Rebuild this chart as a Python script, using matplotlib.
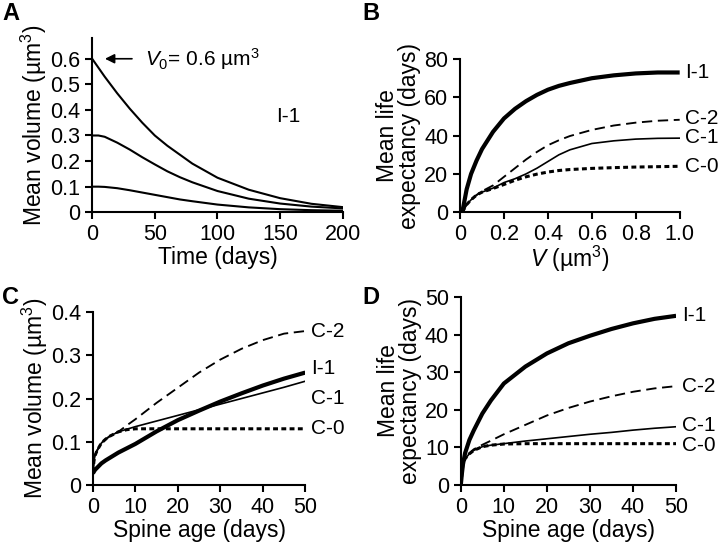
import matplotlib
matplotlib.use("Agg")
import matplotlib.pyplot as plt

plt.rcParams["font.family"] = ["Liberation Sans", "DejaVu Sans"]
plt.rcParams["mathtext.fontset"] = "custom"
plt.rcParams["mathtext.rm"] = "Liberation Sans"
plt.rcParams["mathtext.it"] = "Liberation Sans:italic"
plt.rcParams["font.size"] = 16.5


# Panel A: mean volume vs time, three starting volumes
time_a = [0, 5, 10, 20, 30, 40, 50, 60, 70, 80, 100, 125, 150, 175, 200]
vol_06 = [0.60, 0.565, 0.53, 0.465, 0.405, 0.35, 0.30, 0.26, 0.225, 0.19, 0.135, 0.088, 0.055, 0.033, 0.02]
vol_03 = [0.30, 0.30, 0.295, 0.272, 0.245, 0.215, 0.187, 0.16, 0.137, 0.117, 0.083, 0.053, 0.034, 0.022, 0.015]
vol_01 = [0.10, 0.10, 0.099, 0.094, 0.086, 0.077, 0.068, 0.059, 0.05, 0.043, 0.03, 0.019, 0.012, 0.008, 0.006]

# Panel B: mean life expectancy vs volume
vol_b = [0.01, 0.03, 0.05, 0.075, 0.1, 0.15, 0.2, 0.25, 0.3, 0.35, 0.4, 0.45, 0.5, 0.6, 0.7, 0.8, 0.9, 1.0]
life_b_i1 = [0, 12, 20, 27, 33, 42, 49, 54, 58, 61.3, 64, 66, 67.5, 70, 71.5, 72.5, 73, 73]
life_b_c2 = [0, 4, 6.5, 9, 11, 14, 18.5, 23, 27.5, 31.5, 35, 37.6, 39.8, 43, 45.3, 46.8, 47.8, 48.3]
life_b_c1 = [0, 4, 6.5, 9, 10.5, 12.6, 15.5, 17.5, 20, 23, 26.5, 30, 32.6, 35.9, 37.3, 38.2, 38.6, 38.7]
life_b_c0 = [0, 4, 6.5, 9, 10.5, 12.4, 14.5, 16.7, 18.5, 19.9, 21, 21.8, 22.3, 22.9, 23.3, 23.6, 23.8, 24]

# Panel C: mean volume vs spine age
age_c = [0, 0.25, 0.5, 1, 2, 3, 4, 6, 8, 10, 15, 20, 25, 30, 35, 40, 45, 50]
vol_c_i1 = [0.027, 0.031, 0.035, 0.04, 0.05, 0.057, 0.063, 0.075, 0.085, 0.095, 0.124, 0.15, 0.172, 0.193, 0.212, 0.23, 0.246, 0.26]
vol_c_c2 = [0.03, 0.055, 0.068, 0.08, 0.097, 0.106, 0.113, 0.123, 0.138, 0.152, 0.19, 0.225, 0.26, 0.29, 0.315, 0.335, 0.35, 0.356]
vol_c_c1 = [0.03, 0.055, 0.068, 0.08, 0.097, 0.106, 0.113, 0.123, 0.129, 0.135, 0.148, 0.161, 0.174, 0.187, 0.2, 0.213, 0.226, 0.24]
vol_c_c0 = [0.03, 0.055, 0.068, 0.08, 0.097, 0.106, 0.113, 0.123, 0.128, 0.13, 0.13, 0.13, 0.13, 0.13, 0.13, 0.13, 0.13, 0.13]

# Panel D: mean life expectancy vs spine age
age_d = [0, 0.25, 0.5, 1, 2, 3, 5, 7, 10, 15, 20, 25, 30, 35, 40, 45, 50]
life_d_i1 = [0, 3, 5.5, 8.5, 12, 14.5, 19, 22.5, 27, 31.5, 35, 37.7, 39.7, 41.5, 43, 44.2, 45]
life_d_c2 = [0, 3, 5.5, 7, 8.5, 9.5, 10.7, 11.8, 13.5, 16, 18.5, 20.5, 22.2, 23.6, 24.8, 25.7, 26.3]
life_d_c1 = [0, 3, 5.5, 7, 8.3, 9.2, 10.2, 10.6, 11.0, 11.7, 12.3, 12.9, 13.5, 14.0, 14.6, 15.1, 15.5]
life_d_c0 = [0, 3, 5.5, 7, 8.3, 9.2, 10.2, 10.6, 10.9, 11, 11, 11, 11, 11, 11, 11, 11]

# where the curve names sit at the right of panels B, C, D
label_y_b = {"I-1": 73, "C-2": 49, "C-1": 39, "C-0": 24}
label_y_c = {"C-2": 0.356, "I-1": 0.27, "C-1": 0.2, "C-0": 0.131}
label_y_d = {"I-1": 45, "C-2": 26.3, "C-1": 15.7, "C-0": 10.6}

styles = {
    "I-1": dict(color="black", lw=3.0, solid_capstyle="butt"),
    "C-2": dict(color="black", lw=1.35, dashes=(5.5, 3)),
    "C-1": dict(color="black", lw=1.2),
    "C-0": dict(color="black", lw=2.2, dashes=(1.6, 1.1)),
}
TICK_FS = 15.5
TAG_FS = 15


def style_axes(ax):
    for side in ["top", "right"]:
        ax.spines[side].set_visible(False)
    for side in ["left", "bottom"]:
        ax.spines[side].set_linewidth(1.5)
    ax.tick_params(direction="out", length=5, width=1.5, pad=3.5, labelsize=TICK_FS)


fig = plt.figure(figsize=(7.2, 5.47), dpi=100)

# A
ax_a = fig.add_axes([0.128, 0.612, 0.348, 0.318])
for v in [vol_06, vol_03, vol_01]:
    ax_a.plot(time_a, v, color="black", lw=1.5)
ax_a.set_xlim(0, 200)
ax_a.set_ylim(0, 0.68)
ax_a.set_xticks([0, 50, 100, 150, 200])
ax_a.set_yticks([0, 0.1, 0.2, 0.3, 0.4, 0.5, 0.6])
ax_a.set_yticklabels(["0", "0.1", "0.2", "0.3", "0.4", "0.5", "0.6"])
ax_a.set_xlabel("Time (days)", labelpad=1)
ax_a.set_ylabel("Mean volume (µm$^3$)", labelpad=1)
ax_a.annotate("", xy=(8, 0.6), xytext=(34, 0.6),
              arrowprops=dict(arrowstyle="-|>", color="black", lw=1.2, mutation_scale=14))
ax_a.text(42, 0.6, r"$\mathit{V}_0$= 0.6 µm$^3$", va="center", ha="left", fontsize=TAG_FS)
ax_a.text(147, 0.375, "I-1", va="center", ha="left", fontsize=TAG_FS)
style_axes(ax_a)

# B
ax_b = fig.add_axes([0.639, 0.612, 0.305, 0.280])
for name, y in [("I-1", life_b_i1), ("C-2", life_b_c2), ("C-1", life_b_c1), ("C-0", life_b_c0)]:
    ax_b.plot(vol_b, y, **styles[name])
    ax_b.text(1.025, label_y_b[name], name, va="center", ha="left", fontsize=TAG_FS, clip_on=False)
ax_b.set_xlim(0, 1.0)
ax_b.set_ylim(0, 80)
ax_b.set_xticks([0, 0.2, 0.4, 0.6, 0.8, 1.0])
ax_b.set_xticklabels(["0", "0.2", "0.4", "0.6", "0.8", "1.0"])
ax_b.set_yticks([0, 20, 40, 60, 80])
ax_b.set_xlabel(r"$\mathit{V}$ (µm$^3$)", labelpad=-1)
ax_b.set_ylabel("Mean life\nexpectancy (days)", labelpad=2, linespacing=0.95)
style_axes(ax_b)

# C
ax_c = fig.add_axes([0.129, 0.1133, 0.295, 0.3163])
for name, y in [("I-1", vol_c_i1), ("C-2", vol_c_c2), ("C-1", vol_c_c1), ("C-0", vol_c_c0)]:
    ax_c.plot(age_c, y, **styles[name])
    ax_c.text(51.3, label_y_c[name], name, va="center", ha="left", fontsize=TAG_FS, clip_on=False)
ax_c.set_xlim(0, 50)
ax_c.set_ylim(0, 0.4)
ax_c.set_xticks([0, 10, 20, 30, 40, 50])
ax_c.set_yticks([0, 0.1, 0.2, 0.3, 0.4])
ax_c.set_yticklabels(["0", "0.1", "0.2", "0.3", "0.4"])
ax_c.set_xlabel("Spine age (days)", labelpad=1)
ax_c.set_ylabel("Mean volume (µm$^3$)", labelpad=1)
style_axes(ax_c)

# D
ax_d = fig.add_axes([0.640, 0.1133, 0.299, 0.3437])
for name, y in [("I-1", life_d_i1), ("C-2", life_d_c2), ("C-1", life_d_c1), ("C-0", life_d_c0)]:
    ax_d.plot(age_d, y, **styles[name])
    ax_d.text(51.3, label_y_d[name], name, va="center", ha="left", fontsize=TAG_FS, clip_on=False)
ax_d.set_xlim(0, 50)
ax_d.set_ylim(0, 50)
ax_d.set_xticks([0, 10, 20, 30, 40, 50])
ax_d.set_yticks([0, 10, 20, 30, 40, 50])
ax_d.set_xlabel("Spine age (days)", labelpad=1)
ax_d.set_ylabel("Mean life\nexpectancy (days)", labelpad=2, linespacing=0.95)
style_axes(ax_d)

for letter, x, y in [("A", 0.003, 0.997), ("B", 0.503, 0.997), ("C", 0.003, 0.478), ("D", 0.503, 0.478)]:
    fig.text(x, y, letter, fontsize=17, fontweight="bold", va="top", ha="left")

fig.savefig("out.png", dpi=100)
